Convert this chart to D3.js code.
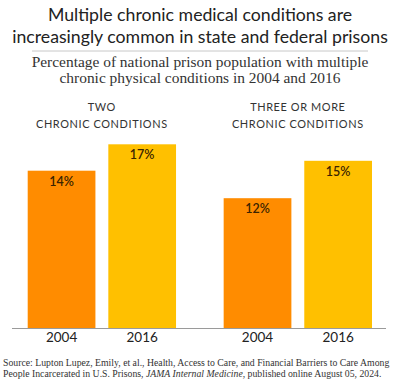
<!DOCTYPE html>
<html>
<head>
<meta charset="utf-8">
<script src="https://cdn.jsdelivr.net/npm/d3@7/dist/d3.min.js"></script>
<style>
  html, body { margin: 0; padding: 0; background: #fff; }
  svg { display: block; }
</style>
</head>
<body>
<svg id="chart" width="400" height="380"></svg>
<script>
// ---- data ----
const groups = ["TWO|CHRONIC CONDITIONS", "THREE OR MORE|CHRONIC CONDITIONS"];
const years = ["2004", "2016"];
const values2004 = [14.3, 11.8];
const values2016 = [16.7, 15.2];
const valueLabels2004 = ["14%", "12%"];
const valueLabels2016 = ["17%", "15%"];
const titleLines = ["Multiple chronic medical conditions are", "increasingly common in state and federal prisons"];
const subtitleLines = ["Percentage of national prison population with multiple", "chronic physical conditions in 2004 and 2016"];

const colors = { "2004": "#FF8C00", "2016": "#FFC000" };

const svg = d3.select("#chart");

// helper: fit font size so longest line reaches target width
function fitLines(sel, target, baseSize) {
  let maxW = 0;
  sel.each(function () { maxW = Math.max(maxW, this.getComputedTextLength()); });
  const fs = baseSize * target / maxW;
  sel.attr("font-size", fs);
}

// ---- title ----
const titleSel = svg.selectAll("text.title").data(titleLines).enter().append("text")
  .attr("class", "title")
  .attr("x", 200).attr("y", (d, i) => 21 + i * 22)
  .attr("text-anchor", "middle")
  .attr("font-family", "Lato, 'Open Sans', sans-serif")
  .attr("font-size", 18)
  .attr("fill", "#222")
  .text(d => d);
fitLines(titleSel, 376, 18);

svg.append("line").attr("x1", 32).attr("x2", 368).attr("y1", 51).attr("y2", 51)
  .attr("stroke", "#c8c8c8").attr("stroke-width", 1);

const subSel = svg.selectAll("text.sub").data(subtitleLines).enter().append("text")
  .attr("class", "sub")
  .attr("x", 200).attr("y", (d, i) => 67 + i * 15.5)
  .attr("text-anchor", "middle")
  .attr("font-family", "'Liberation Serif', 'DejaVu Serif', serif")
  .attr("font-size", 14)
  .attr("fill", "#333")
  .text(d => d);
fitLines(subSel, 337, 14);

// ---- scales ----
const x0 = d3.scaleBand().domain(groups).range([27.7, 372]).paddingInner(0.243).paddingOuter(0);
const x1 = d3.scaleBand().domain(years).range([0, x0.bandwidth()]).paddingInner(0.16).paddingOuter(0);
const y = d3.scaleLinear().domain([0, 20]).range([328, 108]);

const rows = groups.map((g, i) => ({
  group: g,
  bars: [
    { year: "2004", value: values2004[i], label: valueLabels2004[i] },
    { year: "2016", value: values2016[i], label: valueLabels2016[i] }
  ]
}));

const gSel = svg.selectAll("g.grp").data(rows).enter().append("g")
  .attr("class", "grp")
  .attr("transform", d => `translate(${x0(d.group)},0)`);

gSel.selectAll("rect").data(d => d.bars).enter().append("rect")
  .attr("x", d => x1(d.year))
  .attr("width", x1.bandwidth())
  .attr("y", d => y(d.value))
  .attr("height", d => y(0) - y(d.value))
  .attr("fill", d => colors[d.year]);

gSel.selectAll("text.val").data(d => d.bars).enter().append("text")
  .attr("class", "val")
  .attr("x", d => x1(d.year) + x1.bandwidth() / 2)
  .attr("y", d => y(d.value) + 15)
  .attr("text-anchor", "middle")
  .attr("font-family", "Lato, 'Open Sans', sans-serif")
  .attr("font-weight", 600)
  .attr("font-size", 12.5)
  .attr("fill", "#3a2300")
  .text(d => d.label);

// group labels
gSel.each(function (d) {
  const lines = d.group.split("|");
  d3.select(this).selectAll("text.gl").data(lines).enter().append("text")
    .attr("class", "gl")
    .attr("x", x0.bandwidth() / 2)
    .attr("y", (l, i) => 111 + i * 16.5)
    .attr("text-anchor", "middle")
    .attr("font-family", "Lato, 'Open Sans', sans-serif")
    .attr("font-size", 12)
    .attr("letter-spacing", 0.6)
    .attr("fill", "#333")
    .text(l => l);
});
fitLines(svg.selectAll("text.gl").filter(l => l === "CHRONIC CONDITIONS").filter((l, i) => i === 0), 131, 12);
const glSize = +svg.selectAll("text.gl").filter(l => l === "CHRONIC CONDITIONS").attr("font-size");
svg.selectAll("text.gl").attr("font-size", glSize);

// baseline axis
svg.append("line").attr("x1", 12).attr("x2", 386).attr("y1", y(0) + 0.5).attr("y2", y(0) + 0.5)
  .attr("stroke", "#9a9a9a").attr("stroke-width", 1);

gSel.selectAll("text.yr").data(d => d.bars).enter().append("text")
  .attr("class", "yr")
  .attr("x", d => x1(d.year) + x1.bandwidth() / 2)
  .attr("y", 342)
  .attr("text-anchor", "middle")
  .attr("font-family", "Lato, 'Open Sans', sans-serif")
  .attr("font-size", 13.5)
  .attr("fill", "#222")
  .text(d => d.year);

// ---- source ----
const src = svg.append("g").attr("font-family", "'Liberation Serif', 'DejaVu Serif', serif").attr("fill", "#333");
const s1 = src.append("text").attr("x", 3).attr("y", 366).attr("font-size", 10)
  .text("Source: Lupton Lupez, Emily, et al., Health, Access to Care, and Financial Barriers to Care Among");
const s2 = src.append("text").attr("x", 3).attr("y", 376.5).attr("font-size", 10);
s2.append("tspan").text("People Incarcerated in U.S. Prisons, ");
s2.append("tspan").attr("font-style", "italic").text("JAMA Internal Medicine");
s2.append("tspan").text(", published online August 05, 2024.");
fitLines(s1, 387, 10);
s2.attr("font-size", s1.attr("font-size"));
</script>
</body>
</html>
